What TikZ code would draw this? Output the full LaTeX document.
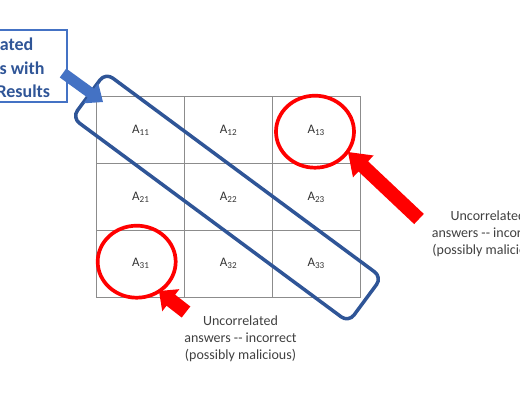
\documentclass[tikz,border=0pt]{standalone}
\usepackage{fontspec}
\setmainfont{Carlito}
\usetikzlibrary{calc,shapes.geometric}
\definecolor{dblue}{HTML}{2F5597}
\definecolor{mblue}{HTML}{4472C4}
\definecolor{txtgray}{HTML}{404040}
\definecolor{gridgray}{HTML}{8C8C8C}
\newcommand\blockarrowx[6]{%
 \coordinate (#1-#2-h) at ($(#2)!#5!(#1)$);
 \fill[#6] ($(#1)!#3!90:(#2)$) -- ($(#1-#2-h)!#3!90:(#2)$) -- ($(#1-#2-h)!#4!90:(#2)$) -- (#2)
   -- ($(#1-#2-h)!#4!-90:(#2)$) -- ($(#1-#2-h)!#3!-90:(#2)$) -- ($(#1)!#3!-90:(#2)$) -- cycle;}
\begin{document}
\begin{tikzpicture}[x=1pt,y=-1pt,
  cell/.style={draw=gridgray, line width=1pt, minimum width=87.67pt, minimum height=66.67pt,
    inner sep=0pt, outer sep=0pt, font=\fontsize{13}{15}\selectfont, text=black!80},
  ring/.style={draw=red, line width=3.7pt, ellipse, minimum width=78pt, minimum height=72pt, inner sep=0pt},
  band/.style={draw=dblue, line width=3.5pt, rounded corners=9pt, minimum width=344pt,
    minimum height=56pt, rotate=-36.5, inner sep=0pt},
  note/.style={align=center, text=txtgray, font=\fontsize{14}{17}\selectfont},
  legendbox/.style={draw=mblue, line width=1.2pt, minimum width=146pt, minimum height=72pt, inner sep=0pt},
  legendtext/.style={align=center, text=dblue, font=\bfseries\fontsize{18}{23.5}\selectfont, inner sep=0pt}]
\useasboundingbox (0,0) rectangle (520,400);
\clip (0,0) rectangle (520,400);
% grid
\node[cell] (a11) at (140.83,130.33) {A\textsubscript{11}};
\node[cell] (a12) at (228.5,130.33) {A\textsubscript{12}};
\node[cell] (a13) at (316.17,130.33) {A\textsubscript{13}};
\node[cell] (a21) at (140.83,197) {A\textsubscript{21}};
\node[cell] (a22) at (228.5,197) {A\textsubscript{22}};
\node[cell] (a23) at (316.17,197) {A\textsubscript{23}};
\node[cell] (a31) at (140.83,263.67) {A\textsubscript{31}};
\node[cell] (a32) at (228.5,263.67) {A\textsubscript{32}};
\node[cell] (a33) at (316.17,263.67) {A\textsubscript{33}};
% rings
\node[ring] (r13) at (315,131.7) {};
\node[ring] (r31) at (136.7,261.7) {};
% diagonal band
\node[band] (diag) at (227,197.5) {};
% legend box
\node[legendbox] (legend) at (-6,66) {};
\node[legendtext] (legendtxt) at (-6,68) {Correlated\\Answers with\\Correct Results};
% arrows
\coordinate (bt) at (63,73);
\coordinate (bh) at (103,102);
\blockarrowx{bt}{bh}{5.5pt}{12.5pt}{15pt}{mblue}
\coordinate (rt1) at (419,219);
\coordinate (rh1) at (348,152);
\blockarrowx{rt1}{rh1}{7pt}{15pt}{21pt}{red}
\coordinate (rt2) at (186,312);
\coordinate (rh2) at (159,291);
\blockarrowx{rt2}{rh2}{7pt}{14pt}{15pt}{red}
% notes
\node[note] (n1) at (488,234) {Uncorrelated\\answers -{}- incorrect\\(possibly malicious)};
\node[note] (n2) at (240.5,339) {Uncorrelated\\answers -{}- incorrect\\(possibly malicious)};
\end{tikzpicture}
\end{document}
